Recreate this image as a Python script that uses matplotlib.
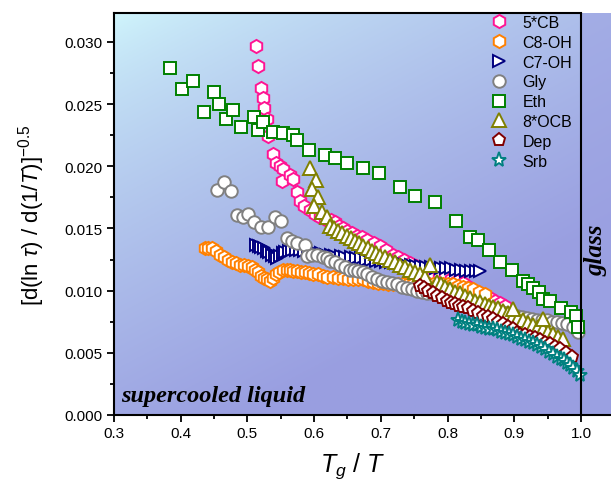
import numpy as np
import matplotlib
matplotlib.use('Agg')
import matplotlib.pyplot as plt

plt.rcParams['font.family'] = ['Liberation Sans', 'DejaVu Sans']
plt.rcParams['mathtext.fontset'] = 'custom'
plt.rcParams['mathtext.rm'] = 'Liberation Sans'
plt.rcParams['mathtext.it'] = 'Liberation Sans:italic'

# ---- data (x = Tg/T, y = [dln(tau)/d(1/T)]^-0.5) ----
cb5_x = [0.513, 0.516, 0.520, 0.523, 0.525, 0.529, 0.531, 0.538, 0.543, 0.549, 0.553, 0.552,
         0.564, 0.568, 0.574, 0.579, 0.585, 0.594, 0.601, 0.609, 0.617, 0.625, 0.632, 0.638,
         0.643, 0.650, 0.657, 0.664, 0.671, 0.679, 0.689, 0.699, 0.708, 0.718, 0.726, 0.735,
         0.744, 0.752, 0.760, 0.769, 0.778, 0.787, 0.796, 0.805, 0.814, 0.823, 0.832, 0.840,
         0.849, 0.857, 0.864, 0.871, 0.879, 0.886]
cb5_y = [0.0297, 0.0281, 0.0263, 0.0255, 0.0247, 0.0238, 0.0224, 0.0210, 0.0203, 0.0200, 0.0198, 0.0188,
         0.0193, 0.0190, 0.0179, 0.0172, 0.0168, 0.0165, 0.0162, 0.0159, 0.0158, 0.0157, 0.0155, 0.0152,
         0.0150, 0.0148, 0.0146, 0.0144, 0.0143, 0.0141, 0.0138, 0.0136, 0.0133, 0.0129, 0.0127, 0.0125,
         0.0122, 0.0120, 0.0118, 0.0116, 0.0114, 0.0113, 0.0111, 0.0109, 0.0108, 0.0106, 0.0103, 0.0100,
         0.0098, 0.0096, 0.0094, 0.0092, 0.0090, 0.0088]

c8oh_x = [0.436, 0.441, 0.447, 0.453, 0.459, 0.465, 0.471, 0.477, 0.483, 0.489, 0.495, 0.501,
          0.507, 0.512, 0.516, 0.521, 0.525, 0.530, 0.534, 0.539, 0.543, 0.548, 0.553, 0.559,
          0.564, 0.569, 0.574, 0.580, 0.586, 0.592, 0.598, 0.606, 0.613, 0.620, 0.628, 0.636,
          0.643, 0.651, 0.658, 0.666, 0.673, 0.681, 0.688, 0.696, 0.703, 0.711, 0.718, 0.726,
          0.733, 0.741, 0.748, 0.756, 0.763, 0.771, 0.778, 0.786, 0.793, 0.801, 0.808, 0.816,
          0.823, 0.831, 0.838, 0.847, 0.856]
c8oh_y = [0.0134, 0.0134, 0.0134, 0.0132, 0.0129, 0.0127, 0.0125, 0.0123, 0.0122, 0.0121, 0.0121, 0.0120,
          0.0119, 0.0117, 0.0115, 0.0112, 0.0110, 0.0109, 0.0108, 0.0110, 0.0113, 0.0115, 0.0117, 0.0117,
          0.0117, 0.0116, 0.0116, 0.0115, 0.0115, 0.0114, 0.0113, 0.0113, 0.0112, 0.0111, 0.0111, 0.0110,
          0.0110, 0.0109, 0.0109, 0.0109, 0.0109, 0.0108, 0.0107, 0.0106, 0.0106, 0.0105, 0.0105, 0.0105,
          0.0105, 0.0105, 0.0105, 0.0105, 0.0105, 0.0105, 0.0105, 0.0105, 0.0105, 0.0105, 0.0105, 0.0104,
          0.0103, 0.0102, 0.0101, 0.0099, 0.0097]

c7oh_x = [0.513, 0.517, 0.521, 0.525, 0.529, 0.533, 0.537, 0.541, 0.545, 0.549, 0.553, 0.557,
          0.562, 0.567, 0.573, 0.579, 0.585, 0.591, 0.597, 0.604, 0.611, 0.618, 0.625, 0.632,
          0.640, 0.647, 0.655, 0.662, 0.670, 0.677, 0.685, 0.692, 0.700, 0.707, 0.715, 0.722,
          0.730, 0.737, 0.745, 0.752, 0.760, 0.767, 0.775, 0.782, 0.790, 0.797, 0.805, 0.812,
          0.820, 0.827, 0.835, 0.842, 0.849]
c7oh_y = [0.0137, 0.0136, 0.0135, 0.0134, 0.0132, 0.0131, 0.0129, 0.0128, 0.0126, 0.0128, 0.0130, 0.0131,
          0.0132, 0.0133, 0.0133, 0.0133, 0.0132, 0.0131, 0.0131, 0.0130, 0.0130, 0.0129, 0.0129, 0.0128,
          0.0128, 0.0127, 0.0127, 0.0126, 0.0126, 0.0125, 0.0125, 0.0124, 0.0124, 0.0123, 0.0123, 0.0122,
          0.0122, 0.0121, 0.0121, 0.0120, 0.0120, 0.0119, 0.0119, 0.0118, 0.0118, 0.0118, 0.0118, 0.0117,
          0.0117, 0.0116, 0.0116, 0.0116, 0.0116]

gly_x = [0.454, 0.465, 0.475, 0.484, 0.493, 0.501, 0.510, 0.520, 0.531, 0.541, 0.550, 0.559,
         0.567, 0.574, 0.586, 0.589, 0.597, 0.604, 0.613, 0.619, 0.624, 0.632, 0.639, 0.647,
         0.654, 0.660, 0.666, 0.673, 0.679, 0.687, 0.694, 0.702, 0.709, 0.717, 0.724, 0.732,
         0.739, 0.747, 0.754, 0.762, 0.769, 0.777, 0.784, 0.792, 0.799, 0.807, 0.814, 0.822,
         0.829, 0.837, 0.844, 0.852, 0.859, 0.867, 0.874, 0.882, 0.889, 0.897, 0.904, 0.912,
         0.919, 0.927, 0.934, 0.942, 0.949, 0.957, 0.964, 0.972, 0.979, 0.988, 0.996]
gly_y = [0.0181, 0.0187, 0.0180, 0.0161, 0.0159, 0.0162, 0.0155, 0.0151, 0.0151, 0.0159, 0.0156, 0.0142,
         0.0140, 0.0138, 0.0137, 0.0128, 0.0129, 0.0129, 0.0127, 0.0126, 0.0124, 0.0123, 0.0121, 0.0119,
         0.0117, 0.0117, 0.0116, 0.0115, 0.0113, 0.0111, 0.0109, 0.0108, 0.0107, 0.0106, 0.0105, 0.0103,
         0.0102, 0.0101, 0.0100, 0.0099, 0.0098, 0.0098, 0.0097, 0.0096, 0.0095, 0.0094, 0.0093, 0.0093,
         0.0092, 0.0090, 0.0089, 0.0088, 0.0087, 0.0086, 0.0084, 0.0083, 0.0082, 0.0081, 0.0080, 0.0079,
         0.0078, 0.0077, 0.0076, 0.0076, 0.0076, 0.0075, 0.0075, 0.0074, 0.0073, 0.0071, 0.0067]

eth_x = [0.384, 0.402, 0.418, 0.450, 0.435, 0.457, 0.468, 0.478, 0.490, 0.510, 0.516, 0.523,
         0.538, 0.553, 0.568, 0.574, 0.592, 0.616, 0.631, 0.649, 0.673, 0.697, 0.729, 0.751,
         0.781, 0.813, 0.834, 0.846, 0.862, 0.879, 0.897, 0.913, 0.921, 0.928, 0.937, 0.943,
         0.954, 0.970, 0.985, 0.993, 0.996]
eth_y = [0.0279, 0.0262, 0.0269, 0.0260, 0.0244, 0.0250, 0.0238, 0.0245, 0.0232, 0.0240, 0.0229, 0.0236,
         0.0228, 0.0227, 0.0225, 0.0221, 0.0213, 0.0209, 0.0207, 0.0203, 0.0199, 0.0195, 0.0183, 0.0176,
         0.0171, 0.0156, 0.0143, 0.0141, 0.0133, 0.0123, 0.0117, 0.0108, 0.0105, 0.0102, 0.0099, 0.0093,
         0.0092, 0.0086, 0.0083, 0.0080, 0.0071]

ocb8_x = [0.594, 0.603, 0.597, 0.606, 0.600, 0.612, 0.619, 0.624, 0.630, 0.636, 0.642, 0.649,
          0.655, 0.661, 0.667, 0.673, 0.680, 0.687, 0.693, 0.699, 0.706, 0.714, 0.721, 0.729,
          0.736, 0.744, 0.751, 0.759, 0.766, 0.774, 0.784, 0.790, 0.796, 0.803, 0.811, 0.818,
          0.826, 0.833, 0.841, 0.848, 0.856, 0.862, 0.868, 0.875, 0.883, 0.890, 0.898, 0.905,
          0.913, 0.920, 0.928, 0.935, 0.943, 0.950, 0.958, 0.965, 0.973, 0.898, 0.943]
ocb8_y = [0.0199, 0.0189, 0.0182, 0.0175, 0.0168, 0.0163, 0.0159, 0.0152, 0.0150, 0.0148, 0.0146, 0.0144,
          0.0142, 0.0140, 0.0138, 0.0136, 0.0134, 0.0132, 0.0130, 0.0128, 0.0127, 0.0125, 0.0123, 0.0121,
          0.0119, 0.0117, 0.0115, 0.0113, 0.0111, 0.0121, 0.0107, 0.0105, 0.0103, 0.0101, 0.0099, 0.0098,
          0.0096, 0.0094, 0.0092, 0.0091, 0.0089, 0.0088, 0.0087, 0.0086, 0.0084, 0.0082, 0.0080, 0.0078,
          0.0076, 0.0074, 0.0072, 0.0071, 0.0069, 0.0067, 0.0065, 0.0063, 0.0061, 0.0085, 0.0077]

dep_x = [0.759, 0.765, 0.771, 0.778, 0.784, 0.791, 0.799, 0.805, 0.811, 0.817, 0.823, 0.830,
         0.838, 0.845, 0.853, 0.860, 0.868, 0.875, 0.883, 0.890, 0.898, 0.904, 0.909, 0.916,
         0.924, 0.931, 0.939, 0.946, 0.954, 0.961, 0.969, 0.978, 0.987]
dep_y = [0.0104, 0.0102, 0.0100, 0.0098, 0.0096, 0.0094, 0.0092, 0.0090, 0.0089, 0.0088, 0.0087, 0.0086,
         0.0084, 0.0082, 0.0080, 0.0079, 0.0077, 0.0075, 0.0073, 0.0071, 0.0069, 0.0066, 0.0064, 0.0064,
         0.0063, 0.0062, 0.0060, 0.0058, 0.0057, 0.0055, 0.0053, 0.0050, 0.0047]

srb_x = [0.816, 0.821, 0.826, 0.832, 0.838, 0.844, 0.850, 0.856, 0.862, 0.868, 0.874, 0.880,
         0.886, 0.892, 0.898, 0.904, 0.910, 0.916, 0.922, 0.928, 0.934, 0.940, 0.946, 0.952,
         0.958, 0.964, 0.970, 0.975, 0.979, 0.984, 0.988, 0.994, 0.999]
srb_y = [0.0076, 0.0075, 0.0074, 0.0073, 0.0072, 0.0072, 0.0071, 0.0070, 0.0069, 0.0069, 0.0068, 0.0067,
         0.0066, 0.0065, 0.0064, 0.0063, 0.0061, 0.0060, 0.0059, 0.0058, 0.0056, 0.0055, 0.0053, 0.0051,
         0.0049, 0.0047, 0.0045, 0.0044, 0.0042, 0.0040, 0.0038, 0.0035, 0.0032]

XMIN, XMAX = 0.3, 1.045
YMIN, YMAX = 0.0, 0.03233

fig = plt.figure(figsize=(6.11, 4.85), dpi=100)
ax = fig.add_axes([0.1866, 0.1423, 0.8134, 0.8288])
ax.set_xlim(XMIN, XMAX)
ax.set_ylim(YMIN, YMAX)

# background gradient: light cyan top-left -> lavender blue bottom-right
u, v = np.meshgrid(np.linspace(0, 1, 300), np.linspace(0, 1, 200))  # v = 0 at top
t = np.clip(0.55 * u + 0.85 * v, 0, 1) ** 0.7
c0 = np.array([0.82, 0.97, 0.99])
c1 = np.array([0.60, 0.62, 0.88])
img = c0[None, None, :] * (1 - t[..., None]) + c1[None, None, :] * t[..., None]
ax.imshow(img, extent=[XMIN, XMAX, YMIN, YMAX], origin='upper', aspect='auto', zorder=0)
ax.axvspan(1.0, XMAX, color='#9ca2e2', alpha=0.6, lw=0, zorder=0.5)
ax.axvline(1.0, color='k', lw=1.5, zorder=5)

series = [
    ('5*CB', cb5_x, cb5_y, 'h', '#ff1493', 9.5),
    ('C8-OH', c8oh_x, c8oh_y, 'h', '#ff8000', 9.5),
    ('C7-OH', c7oh_x, c7oh_y, '>', '#000080', 9),
    ('Gly', gly_x, gly_y, 'o', '#808080', 9),
    ('Eth', eth_x, eth_y, 's', '#008000', 8),
    ('8*OCB', ocb8_x, ocb8_y, '^', '#808000', 10.5),
    ('Dep', dep_x, dep_y, 'p', '#800000', 9.5),
    ('Srb', srb_x, srb_y, '*', '#008080', 11),
]
for name, xs, ys, mk, col, ms in series:
    ax.plot(xs, ys, ls='none', marker=mk, ms=ms, mfc='white', mec=col, mew=1.4,
            label=name, zorder=3)

leg = ax.legend(loc='upper left', bbox_to_anchor=(0.758, 0.995), frameon=False,
                fontsize=11.5, handlelength=1.0, handletextpad=1.0, labelspacing=0.3,
                borderpad=0, borderaxespad=0)

# axes look
for s in ['right', 'top']:
    ax.spines[s].set_visible(False)
for s in ['left', 'bottom']:
    ax.spines[s].set_linewidth(1.5)
ax.plot([XMIN, 1.0], [YMAX, YMAX], color='k', lw=1.5, clip_on=False, zorder=5)

ax.set_xticks(np.arange(0.3, 1.01, 0.1))
ax.set_xticks(np.arange(0.35, 1.04, 0.1), minor=True)
ax.set_yticks(np.arange(0, 0.0301, 0.005))
ax.set_yticks(np.arange(0.0025, 0.0301, 0.005), minor=True)
ax.set_xticklabels(['%.1f' % x for x in np.arange(0.3, 1.01, 0.1)])
ax.set_yticklabels(['%.3f' % y for y in np.arange(0, 0.0301, 0.005)])
ax.tick_params(which='major', direction='out', length=5, width=1.3, labelsize=11, pad=3)
ax.tick_params(which='minor', direction='out', length=3, width=1.3)

ax.set_xlabel(r'$T_g$ / $T$', fontsize=18, labelpad=2)
ax.xaxis.set_label_coords(0.481, -0.088)
ax.set_ylabel(r'[d(ln $\tau$) / d(1/$T$)]$^{-0.5}$', fontsize=16, labelpad=13)

ax.text(0.31, 0.0011, 'supercooled liquid', family='Liberation Serif', style='italic',
        weight='bold', fontsize=17.5, ha='left', va='baseline', zorder=6)
ax.text(1.022, 0.0133, 'glass', family='Liberation Serif', style='italic',
        weight='bold', fontsize=18, rotation=90, ha='center', va='center', zorder=6)

fig.savefig('out.png', dpi=100)
